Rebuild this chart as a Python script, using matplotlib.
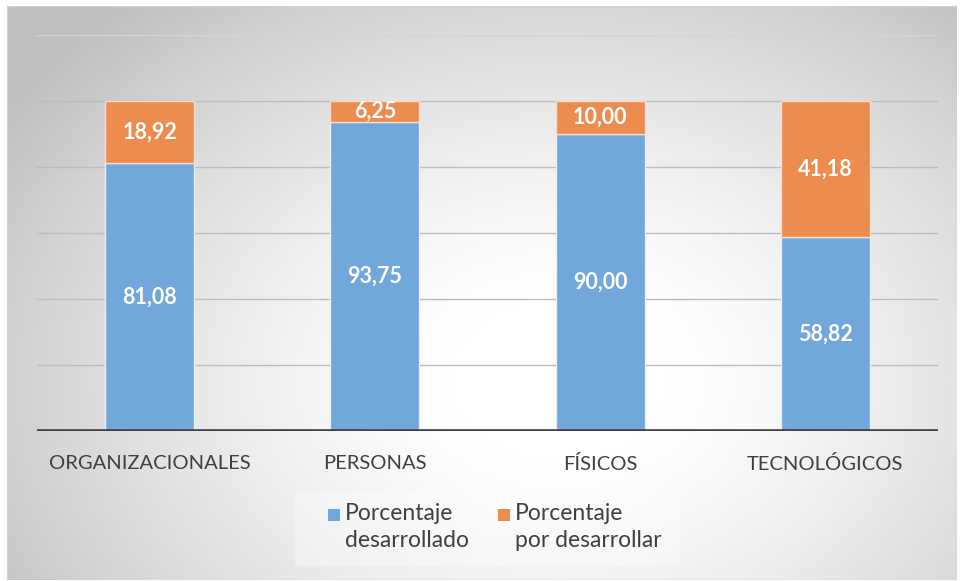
import numpy as np
import matplotlib
matplotlib.use("Agg")
import matplotlib.pyplot as plt
from matplotlib.patches import Rectangle

categories = ["ORGANIZACIONALES", "PERSONAS", "FÍSICOS", "TECNOLÓGICOS"]
desarrollado = [81.08, 93.75, 90.00, 58.82]
por_desarrollar = [18.92, 6.25, 10.00, 41.18]
series_names = ["Porcentaje\ndesarrollado", "Porcentaje\npor desarrollar"]
grid_values = [20, 40, 60, 80, 100, 120]

BLUE = "#71a7da"
ORANGE = "#ec8c4e"
TEXT = "#404040"
FONT = "Lato"

W, H = 961, 581
fig = plt.figure(figsize=(W / 100, H / 100), dpi=100)
fig.patch.set_facecolor("white")

def fx(px):
    return px / W

def fy(py):
    return 1 - py / H

# Chart area with a soft radial gray-to-white fill
bg = fig.add_axes([fx(7), fy(580), fx(957 - 7), (580 - 6) / H], zorder=0)
gx = np.linspace(7, 957, 480)
gy = np.linspace(6, 580, 290)
X, Y = np.meshgrid(gx, gy)
r = np.sqrt(((X - 560) / 560) ** 2 + ((Y - 380) / 420) ** 2)
shade = np.clip(1.0 - 0.25 * np.clip(r - 0.2, 0, None) ** 1.3, 0.75, 1.0)
bg.imshow(np.dstack([shade] * 3), extent=(0, 1, 0, 1), aspect="auto", origin="upper")
bg.add_patch(Rectangle((0, 0), 1, 1, transform=bg.transAxes, fill=False,
                       edgecolor="#d0d0d0", lw=1.0))
bg.set_axis_off()

ax = fig.add_axes([fx(37), fy(431), fx(938 - 37), (431 - 35) / H], zorder=1)
ax.patch.set_alpha(0)
x = np.arange(len(categories))
ax.set_xlim(-0.5, len(categories) - 0.5)
ax.set_ylim(0, 120)

for g in grid_values:
    ax.axhline(g, color="#bdbdbd" if g < 120 else "#d4d4d4", lw=1.0, zorder=1)

width = 0.395
b1 = ax.bar(x, desarrollado, width, color=BLUE, edgecolor="#e6eef7", lw=1.0,
            zorder=2, label=series_names[0])
b2 = ax.bar(x, por_desarrollar, width, bottom=desarrollado, color=ORANGE,
            edgecolor="#f6dccb", lw=1.0, zorder=2, label=series_names[1])

for i in range(len(categories)):
    ax.text(x[i], desarrollado[i] / 2, f"{desarrollado[i]:.2f}".replace(".", ","),
            ha="center", va="center", color="white", fontsize=15.5,
            fontweight="bold", family=FONT, zorder=3)
    ax.text(x[i], desarrollado[i] + por_desarrollar[i] / 2,
            f"{por_desarrollar[i]:.2f}".replace(".", ","),
            ha="center", va="center", color="white", fontsize=15.5,
            fontweight="bold", family=FONT, zorder=3)

ax.axhline(0, color="#404040", lw=2.6, zorder=4)
for s in ax.spines.values():
    s.set_visible(False)
ax.set_yticks([])
ax.set_xticks(x)
ax.set_xticklabels(categories, fontsize=14.5, color=TEXT, family=FONT)
ax.tick_params(axis="x", length=0, pad=17)

# Legend panel
leg_ax = fig.add_axes([fx(295), fy(566), fx(680 - 295), (566 - 492) / H], zorder=2)
leg_ax.set_xlim(295, 680)
leg_ax.set_ylim(566, 492)
leg_ax.add_patch(Rectangle((295, 492), 385, 74, facecolor="white", alpha=0.3,
                           edgecolor="none"))
leg_ax.set_axis_off()
for sx, color, name in [(327, BLUE, series_names[0]), (497, ORANGE, series_names[1])]:
    leg_ax.add_patch(Rectangle((sx, 508), 13, 13, facecolor=color,
                               edgecolor="white", lw=0.6))
    leg_ax.text(sx + 18, 503, name, ha="left", va="top", fontsize=16.5,
                color=TEXT, family=FONT, linespacing=1.35)

fig.savefig("out.png", dpi=100)
